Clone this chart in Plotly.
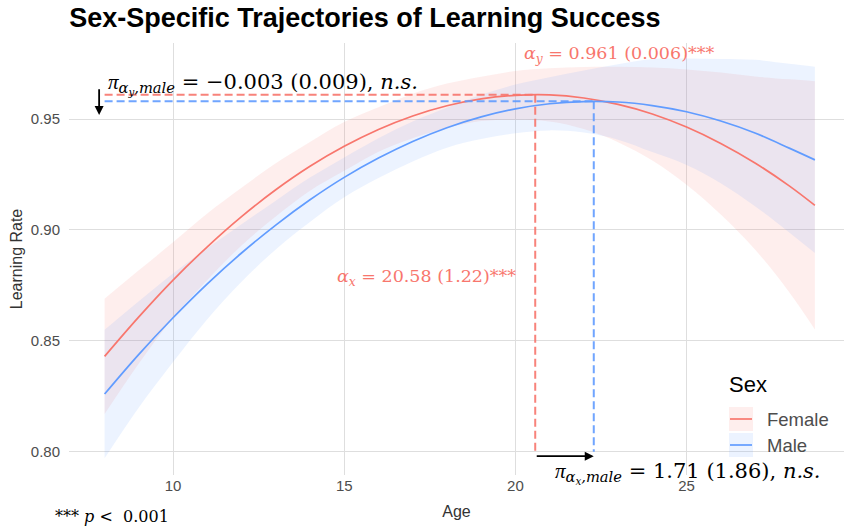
import plotly.graph_objects as go

# Age grid at which the fitted quadratic trajectories are evaluated
age = [8, 9, 10, 11, 12, 13, 14, 15, 16, 17, 18, 19, 20, 21, 22, 23, 24, 25, 26, 27, 28, 28.75]

# Fitted learning rate and 95% CI half-width, by sex
female_fit = [0.843, 0.8608, 0.8774, 0.8924, 0.9060, 0.9181, 0.9287, 0.9377, 0.9453, 0.9514, 0.9560,
              0.9591, 0.9607, 0.9609, 0.9595, 0.9566, 0.9523, 0.9464, 0.9390, 0.9302, 0.9199, 0.9111]
female_ci = [0.026, 0.021, 0.017, 0.015, 0.013, 0.012, 0.011, 0.011, 0.010, 0.010, 0.010,
             0.010, 0.011, 0.012, 0.014, 0.017, 0.021, 0.026, 0.032, 0.039, 0.048, 0.056]
male_fit = [0.826, 0.8439, 0.8604, 0.8757, 0.8896, 0.9022, 0.9136, 0.9237, 0.9324, 0.9399, 0.9461,
            0.9510, 0.9546, 0.9569, 0.9579, 0.9577, 0.9561, 0.9533, 0.9491, 0.9437, 0.9369, 0.9316]
male_ci = [0.029, 0.024, 0.020, 0.016, 0.013, 0.011, 0.010, 0.009, 0.009, 0.009, 0.009,
           0.010, 0.011, 0.012, 0.014, 0.017, 0.021, 0.024, 0.028, 0.033, 0.038, 0.042]

# Peak (vertex) estimates
female_peak_age = 20.58
female_peak_rate = 0.961
male_shift_age = 1.71
male_shift_rate = -0.003
male_peak_age = female_peak_age + male_shift_age
male_peak_rate = female_peak_rate + male_shift_rate

sexes = ["Female", "Male"]
x_ticks = [10, 15, 20, 25]
y_ticks = [0.80, 0.85, 0.90, 0.95]

RED = "#F8766D"
BLUE = "#619CFF"
RED_FILL = "rgba(248,118,109,0.12)"
BLUE_FILL = "rgba(97,156,255,0.12)"
MATH_FONT = "DejaVu Serif"
PI_FONT = "Liberation Serif"
SANS = "Liberation Sans, Arial, sans-serif"

fig = go.Figure()

series = [(female_fit, female_ci, RED, RED_FILL), (male_fit, male_ci, BLUE, BLUE_FILL)]
for name, (fit, ci, col, fillcol) in zip(sexes, series):
    lower = [f - c for f, c in zip(fit, ci)]
    upper = [f + c for f, c in zip(fit, ci)]
    fig.add_trace(go.Scatter(x=age, y=lower, mode="lines", line=dict(width=0, shape="spline"),
                             hoverinfo="skip"))
    fig.add_trace(go.Scatter(x=age, y=upper, mode="lines", line=dict(width=0, shape="spline"),
                             fill="tonexty", fillcolor=fillcol, hoverinfo="skip"))
for name, (fit, ci, col, fillcol) in zip(sexes, series):
    fig.add_trace(go.Scatter(x=age, y=fit, mode="lines", name=name,
                             line=dict(color=col, width=1.7, shape="spline")))

# Dashed guides to the peaks
x0 = age[0]
y_floor = y_ticks[0]
dash_style = dict(width=2, dash="8px,4px")
guides = [
    ([x0, female_peak_age], [female_peak_rate, female_peak_rate], RED),
    ([x0, male_peak_age], [male_peak_rate, male_peak_rate], BLUE),
    ([female_peak_age, female_peak_age], [female_peak_rate, y_floor], RED),
    ([male_peak_age, male_peak_age], [male_peak_rate, y_floor], BLUE),
]
for gx, gy, col in guides:
    fig.add_trace(go.Scatter(x=gx, y=gy, mode="lines", line=dict(color=col, **dash_style),
                             opacity=0.9, hoverinfo="skip"))

# Arrows marking the male shift in peak rate and peak age
fig.add_annotation(x=7.84, y=0.9518, ax=7.84, ay=0.9641, xref="x", yref="y", axref="x", ayref="y",
                   showarrow=True, arrowhead=2, arrowsize=1, arrowwidth=1.8, arrowcolor="black", text="")
fig.add_annotation(x=male_peak_age, y=0.798, ax=female_peak_age, ay=0.798, xref="x", yref="y",
                   axref="x", ayref="y", showarrow=True, arrowhead=2, arrowsize=1, arrowwidth=1.8,
                   arrowcolor="black", text="")

# Estimate labels
PI = f"<span style='font-family:{PI_FONT}'><i>π</i></span>"
fig.add_annotation(x=8.04, y=0.9657, xref="x", yref="y", xanchor="left", yanchor="middle", showarrow=False,
                   text=PI + "<i><sub>α<sub>y</sub>,male</sub></i> = −0.003 (0.009), <i>n.s.</i>",
                   font=dict(family=MATH_FONT, size=21, color="black"))
fig.add_annotation(x=20.19, y=0.9793, xref="x", yref="y", xanchor="left", yanchor="middle", showarrow=False,
                   text="<i>α<sub>y</sub></i> = 0.961 (0.006)***",
                   font=dict(family=MATH_FONT, size=17.5, color=RED))
fig.add_annotation(x=14.73, y=0.8786, xref="x", yref="y", xanchor="left", yanchor="middle", showarrow=False,
                   text="<i>α<sub>x</sub></i> = 20.58 (1.22)***",
                   font=dict(family=MATH_FONT, size=17.5, color=RED))
fig.add_annotation(x=21.10, y=0.7904, xref="x", yref="y", xanchor="left", yanchor="middle", showarrow=False,
                   text=PI + "<i><sub>α<sub>x</sub>,male</sub></i> = 1.71 (1.86), <i>n.s.</i>",
                   font=dict(family=MATH_FONT, size=21, color="black"))
fig.add_annotation(x=-0.021, y=-0.097, xref="paper", yref="paper", xanchor="left", yanchor="middle",
                   showarrow=False, text="*** <i>p</i> &lt;  0.001",
                   font=dict(family=MATH_FONT, size=16, color="black"))

# Legend drawn inside the panel, bottom right: ribbon swatch + line key
def px_x(px):
    return (px - 69) / 775

def px_y(py):
    return (475 - py) / 432

fig.add_annotation(x=px_x(727), y=px_y(384), xref="paper", yref="paper", xanchor="left", yanchor="middle",
                   showarrow=False, text="Sex", font=dict(family=SANS, size=22, color="black"))
for i, (name, (fit, ci, col, fillcol)) in enumerate(zip(sexes, series)):
    top = 407 + 26 * i
    fig.add_shape(type="rect", xref="paper", yref="paper", x0=px_x(729), x1=px_x(753),
                  y0=px_y(top + 24), y1=px_y(top), fillcolor=fillcol, line=dict(width=0))
    fig.add_shape(type="line", xref="paper", yref="paper", x0=px_x(730), x1=px_x(752),
                  y0=px_y(top + 12), y1=px_y(top + 12), line=dict(color=col, width=1.7))
    fig.add_annotation(x=px_x(765), y=px_y(top + 12), xref="paper", yref="paper", xanchor="left",
                       yanchor="middle", showarrow=False, text=name,
                       font=dict(family=SANS, size=18.5, color="#4D4D4D"))

fig.update_layout(
    width=844, height=526,
    margin=dict(l=69, r=0, t=43, b=51),
    paper_bgcolor="white", plot_bgcolor="white",
    font=dict(family=SANS, color="#4D4D4D"),
    title=dict(text="<b>Sex-Specific Trajectories of Learning Success</b>", x=0.082, xanchor="left",
               y=0.967, yanchor="middle", font=dict(family=SANS, size=27, color="black")),
    showlegend=False,
)
fig.update_xaxes(range=[6.96, 29.6], tickvals=x_ticks, showgrid=True, gridcolor="#DEDEDE", gridwidth=1,
                 zeroline=False, showline=False, ticks="", tickfont=dict(size=15, color="#4D4D4D"),
                 title=dict(text="Age", font=dict(size=16, color="#333333"), standoff=12))
fig.update_yaxes(range=[0.7895, 0.9843], tickvals=y_ticks, tickformat=".2f", showgrid=True,
                 gridcolor="#DEDEDE", gridwidth=1, zeroline=False, showline=False,
                 ticks="outside", ticklen=5, tickcolor="rgba(0,0,0,0)",
                 tickfont=dict(size=15, color="#4D4D4D"),
                 title=dict(text="Learning Rate", font=dict(size=16, color="#333333"), standoff=4))

fig.write_html("out.html")
